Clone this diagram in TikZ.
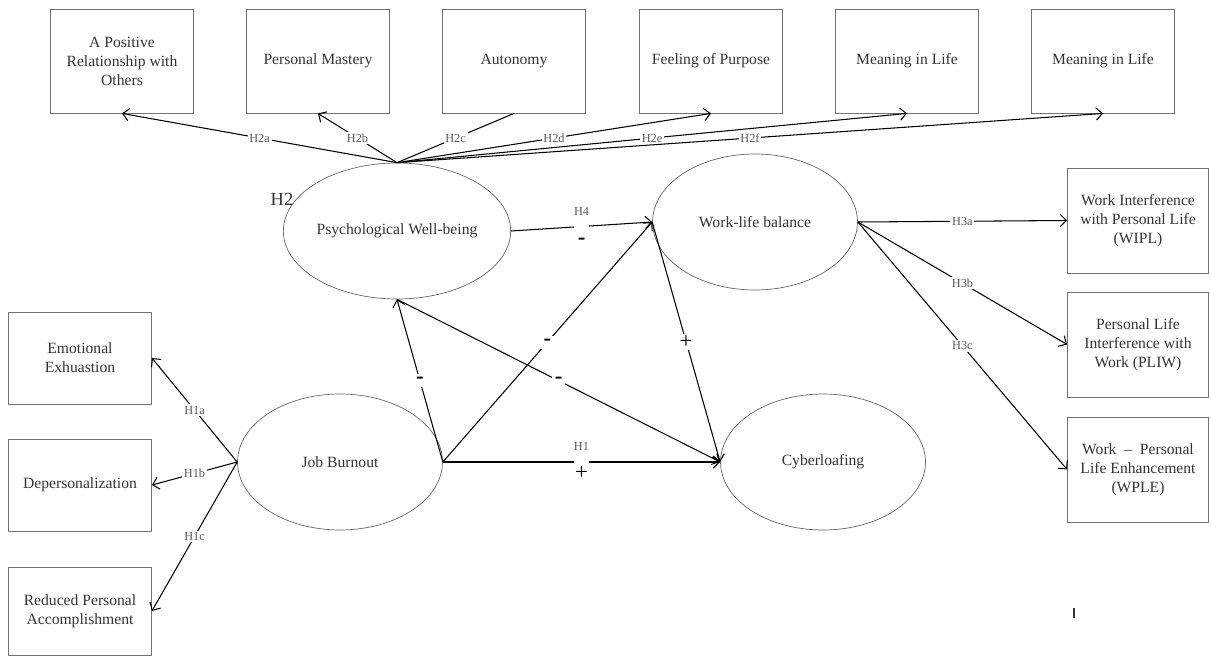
\documentclass[tikz,border=0pt]{standalone}
\usepackage{fontspec}
\setmainfont{Liberation Serif}
\usetikzlibrary{shapes.geometric, arrows.meta}

\begin{document}
\begin{tikzpicture}[x=0.02cm, y=-0.02cm, thin, >={Straight Barb[length=3.5pt, width=7pt]},
  dim/.style = {draw=black!55, line width=0.5pt, align=center, text=black!80, font=\fontsize{8.9}{10.8}\selectfont, inner sep=2pt},
  topbox/.style = {dim, minimum width=2.86cm, minimum height=2.08cm},
  sidebox/.style = {dim, minimum width=2.86cm, minimum height=1.84cm},
  rbox/.style = {dim, minimum width=2.82cm, minimum height=2.1cm},
  latent/.style = {draw=black!60, ellipse, line width=0.4pt, minimum width=4.1cm, minimum height=2.72cm, inner sep=0pt, text=black!80, font=\fontsize{8.9}{10.8}\selectfont},
  link/.style = {->, line width=0.6pt},
  hyp/.style = {midway, fill=white, inner sep=1pt, text=black!65, font=\fontsize{7}{8}\selectfont},
  sgn/.style = {midway, fill=white, inner sep=1pt, font=\fontsize{13}{13}\selectfont\bfseries},
  sgnb/.style = {sgn, minimum size=0.26cm},
  pls/.style = {midway, fill=white, inner sep=1pt, font=\fontsize{13}{13}\selectfont},
  gap/.style = {midway, fill=white, inner sep=0pt, minimum width=0.3cm, minimum height=0.06cm}]
  \useasboundingbox (0,0) rectangle (1211,656);
  % dimensions of well-being
  \node[topbox] (rel)   at (122,61)  {A Positive\\Relationship with\\Others};
  \node[topbox] (mast)  at (318,61)  {Personal Mastery};
  \node[topbox] (auto)  at (514,61)  {Autonomy};
  \node[topbox] (purp)  at (711,61)  {Feeling of Purpose};
  \node[topbox] (mean)  at (907,61)  {Meaning in Life};
  \node[topbox] (meanb) at (1103,61) {Meaning in Life};
  % dimensions of burnout
  \node[sidebox] (emo) at (80,358) {Emotional\\Exhuastion};
  \node[sidebox] (dep) at (80,485) {Depersonalization};
  \node[sidebox, minimum height=1.76cm] (rpa) at (80,611) {Reduced Personal\\Accomplishment};
  % dimensions of work-life balance
  \node[rbox] (wipl) at (1138,220.5) {Work Interference\\with Personal Life\\(WIPL)};
  \node[rbox] (pliw) at (1138,344.5) {Personal Life\\Interference with\\Work (PLIW)};
  \node[rbox] (wple) at (1138,469.5) {Work \ -- \ Personal\\Life Enhancement\\(WPLE)};
  % latent constructs
  \node[latent] (pwb) at (397,231) {Psychological Well-being};
  \node[latent] (wlb) at (755,222) {Work-life balance};
  \node[latent] (jb)  at (340,462) {Job Burnout};
  \node[latent] (cyb) at (823,462) {Cyberloafing};
  \node[text=black!80, font=\fontsize{10.5}{12}\selectfont] (h2) at (282,199) {H2};
  % H2
  \draw[link] (pwb.north) -- node[hyp] {H2a} (rel.south);
  \draw[link] (pwb.north) -- node[hyp] {H2b} (mast.south);
  \draw[line width=0.6pt] (pwb.north) -- node[hyp] {H2c} (auto.south);
  \draw[link] (pwb.north) -- node[hyp] {H2d} (purp.south);
  \draw[link] (pwb.north) -- node[hyp] {H2e} (mean.south);
  \draw[link] (pwb.north) -- node[hyp] {H2f} (meanb.south);
  % H1
  \draw[link] (jb.west) -- node[hyp] {H1a} (emo.east);
  \draw[link] (jb.west) -- node[hyp] {H1b} (dep.east);
  \draw[link] (jb.west) -- node[hyp] {H1c} (rpa.east);
  \draw[link] (jb.east) -- node[gap] {} node[hyp, fill=none, above=5pt] {H1} node[pls, fill=none, below=1.5pt] {+} (cyb.west);
  \draw[link] (jb.east) -- node[sgnb] {-} (pwb.south);
  \draw[link] (jb.east) -- node[sgnb] {-} (wlb.west);
  \draw[link] (pwb.south) -- node[sgnb] {-} (cyb.west);
  \draw[link] (wlb.west) -- node[pls] {+} (cyb.west);
  % H4
  \draw[link] (pwb.east) -- node[gap] {} node[hyp, fill=none, above=5pt] {H4} node[sgn, fill=none, below=5.5pt] {-} (wlb.west);
  % H3
  \draw[link] (wlb.east) -- node[hyp] {H3a} (wipl.west);
  \draw[link] (wlb.east) -- node[hyp] {H3b} (pliw.west);
  \draw[link] (wlb.east) -- node[hyp] {H3c} (wple.west);
  % stray mark
  \draw[line width=0.8pt, black!80] (1074,608) -- (1074,618);
\end{tikzpicture}
\end{document}
